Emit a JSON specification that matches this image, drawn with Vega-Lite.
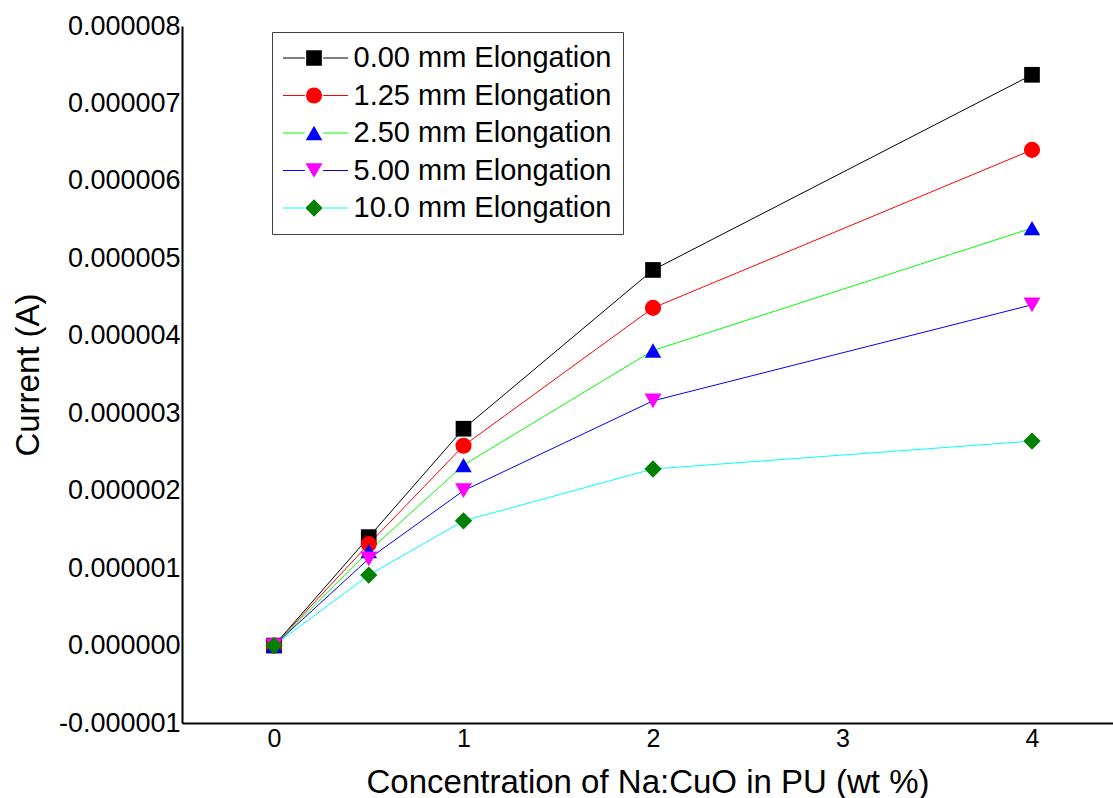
{
  "$schema": "https://vega.github.io/schema/vega-lite/v6.json",
  "width": 931,
  "height": 697,
  "autosize": {"type": "none"},
  "padding": {"left": 182, "top": 26, "right": 0, "bottom": 75},
  "background": "white",
  "config": {
    "view": {"stroke": null},
    "font": "Liberation Sans",
    "axis": {"grid": false, "ticks": false, "domainColor": "black", "domainWidth": 2, "labelColor": "black", "titleColor": "black", "labelFont": "Liberation Sans", "titleFont": "Liberation Sans", "titleFontWeight": "normal"}
  },
  "data": {
    "values": [
      {"x": 0, "current": 0, "series": "0.00 mm Elongation"},
      {"x": 0.5, "current": 1.40e-6, "series": "0.00 mm Elongation"},
      {"x": 1, "current": 2.80e-6, "series": "0.00 mm Elongation"},
      {"x": 2, "current": 4.85e-6, "series": "0.00 mm Elongation"},
      {"x": 4, "current": 7.37e-6, "series": "0.00 mm Elongation"},
      {"x": 0, "current": 0, "series": "1.25 mm Elongation"},
      {"x": 0.5, "current": 1.31e-6, "series": "1.25 mm Elongation"},
      {"x": 1, "current": 2.58e-6, "series": "1.25 mm Elongation"},
      {"x": 2, "current": 4.36e-6, "series": "1.25 mm Elongation"},
      {"x": 4, "current": 6.40e-6, "series": "1.25 mm Elongation"},
      {"x": 0, "current": 0, "series": "2.50 mm Elongation"},
      {"x": 0.5, "current": 1.22e-6, "series": "2.50 mm Elongation"},
      {"x": 1, "current": 2.33e-6, "series": "2.50 mm Elongation"},
      {"x": 2, "current": 3.81e-6, "series": "2.50 mm Elongation"},
      {"x": 4, "current": 5.39e-6, "series": "2.50 mm Elongation"},
      {"x": 0, "current": 0, "series": "5.00 mm Elongation"},
      {"x": 0.5, "current": 1.12e-6, "series": "5.00 mm Elongation"},
      {"x": 1, "current": 2.00e-6, "series": "5.00 mm Elongation"},
      {"x": 2, "current": 3.16e-6, "series": "5.00 mm Elongation"},
      {"x": 4, "current": 4.40e-6, "series": "5.00 mm Elongation"},
      {"x": 0, "current": 0, "series": "10.0 mm Elongation"},
      {"x": 0.5, "current": 0.91e-6, "series": "10.0 mm Elongation"},
      {"x": 1, "current": 1.61e-6, "series": "10.0 mm Elongation"},
      {"x": 2, "current": 2.28e-6, "series": "10.0 mm Elongation"},
      {"x": 4, "current": 2.64e-6, "series": "10.0 mm Elongation"}
    ]
  },
  "encoding": {
    "x": {
      "field": "x", "type": "quantitative",
      "scale": {"domain": [-0.4855, 4.4274], "nice": false, "zero": false},
      "axis": {"values": [0, 1, 2, 3, 4], "format": "d", "labelFontSize": 25, "labelPadding": 3, "title": "Concentration of Na:CuO in PU (wt %)", "titleFontSize": 33, "titlePadding": 15}
    },
    "y": {
      "field": "current", "type": "quantitative",
      "scale": {"domain": [-1e-6, 8e-6], "nice": false, "zero": false},
      "axis": {"values": [-1e-6, 0, 1e-6, 2e-6, 3e-6, 4e-6, 5e-6, 6e-6, 7e-6, 8e-6], "labelExpr": "replace(format(datum.value, '.6f'), '\u2212', '-')", "labelFontSize": 27, "labelPadding": 2, "title": "Current (A)", "titleFontSize": 33, "titlePadding": 13}
    }
  },
  "layer": [
    {
      "mark": {"type": "line", "strokeWidth": 1},
      "encoding": {
        "stroke": {
          "field": "series", "type": "nominal",
          "scale": {"domain": ["10.0 mm Elongation", "5.00 mm Elongation", "2.50 mm Elongation", "1.25 mm Elongation", "0.00 mm Elongation"], "range": ["#00ffff", "#0000ff", "#00ff00", "#ff0000", "#000000"]},
          "legend": {"orient": "none", "legendX": 90, "legendY": 6, "title": null, "values": ["0.00 mm Elongation", "1.25 mm Elongation", "2.50 mm Elongation", "5.00 mm Elongation", "10.0 mm Elongation"], "symbolType": "M-1,0H-0.27M0.27,0H1", "symbolSize": 4624, "symbolStrokeWidth": 1, "clipHeight": 30, "rowPadding": 7.5, "padding": 11, "symbolOffset": -3.5, "labelOffset": 5, "labelLimit": 0, "labelFont": "Liberation Sans", "labelFontSize": 29, "labelColor": "black", "strokeColor": "#404040"}
        }
      }
    },
    {
      "mark": {"type": "point", "filled": true, "opacity": 1, "strokeWidth": 0},
      "encoding": {
        "shape": {
          "field": "series", "type": "nominal",
          "scale": {"domain": ["0.00 mm Elongation", "1.25 mm Elongation", "2.50 mm Elongation", "5.00 mm Elongation", "10.0 mm Elongation"], "range": ["square", "circle", "triangle-up", "triangle-down", "diamond"]},
          "legend": {"orient": "none", "legendX": 90, "legendY": 6, "title": null, "clipHeight": 30, "rowPadding": 7.5, "padding": 11, "symbolOffset": 16.5, "labelOffset": 5, "labelLimit": 0, "labelFontSize": 29, "labelOpacity": 0, "labelExpr": "''", "symbolStrokeWidth": 0}
        },
        "fill": {
          "field": "series", "type": "nominal",
          "scale": {"domain": ["0.00 mm Elongation", "1.25 mm Elongation", "2.50 mm Elongation", "5.00 mm Elongation", "10.0 mm Elongation"], "range": ["#000000", "#ff0000", "#0000ff", "#ff00ff", "#008000"]}
        },
        "size": {
          "field": "series", "type": "nominal",
          "scale": {"domain": ["0.00 mm Elongation", "1.25 mm Elongation", "2.50 mm Elongation", "5.00 mm Elongation", "10.0 mm Elongation"], "range": [246, 300, 441, 441, 441]}
        }
      }
    }
  ]
}
